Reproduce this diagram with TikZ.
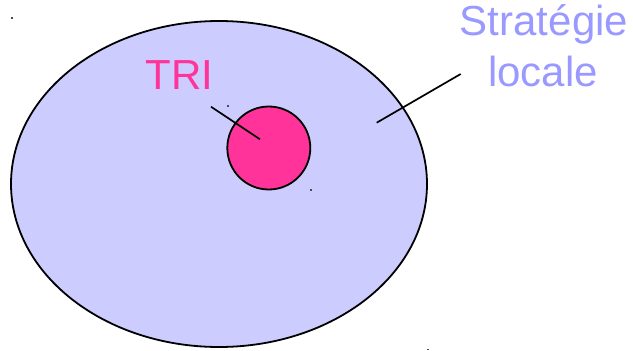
\documentclass[tikz,border=0pt]{standalone}
\usepackage{fontspec}
\setmainfont{Liberation Sans}
\usetikzlibrary{shapes.geometric}
\definecolor{lavfill}{HTML}{CCCCFF}
\definecolor{pinkfill}{HTML}{FF3399}
\definecolor{bluetext}{HTML}{9999FF}
\tikzset{
  pointer/.style={draw=black, line width=1.7pt},
  outline/.style={draw=black, line width=1.8pt},
  labeltext/.style={font=\fontsize{42}{51}\selectfont, inner sep=0pt},
  speck/.style={fill=black!70, inner sep=0pt, minimum size=1.5pt, draw=none},
}
\begin{document}
\begin{tikzpicture}[x=1pt,y=-1pt]
  \useasboundingbox (0,0) rectangle (633,351);
  \node[ellipse, outline, fill=lavfill, inner sep=0pt,
        minimum width=416pt, minimum height=326pt] (big) at (219,184) {};
  \node[circle, outline, fill=pinkfill, inner sep=0pt,
        minimum size=83pt] (tri) at (268.8,148) {};
  \node[labeltext, text=pinkfill, anchor=base west] (trilabel) at (145.5,89.5) {TRI};
  \node[labeltext, text=bluetext, anchor=base] (strat1) at (544,35) {Stratégie};
  \node[labeltext, text=bluetext, anchor=base] (strat2) at (543,86.7) {locale};
  \coordinate (triend) at (211,106.7);
  \coordinate (tritip) at (260,139.3);
  \coordinate (stratend) at (460.7,74);
  \coordinate (strattip) at (376.7,122.7);
  \draw[pointer] (triend) -- (tritip);
  \draw[pointer] (stratend) -- (strattip);
  \node[speck] (s1) at (12,18) {};
  \node[speck] (s2) at (228,106) {};
  \node[speck] (s3) at (311,190) {};
  \node[speck] (s4) at (428,349.5) {};
\end{tikzpicture}
\end{document}
